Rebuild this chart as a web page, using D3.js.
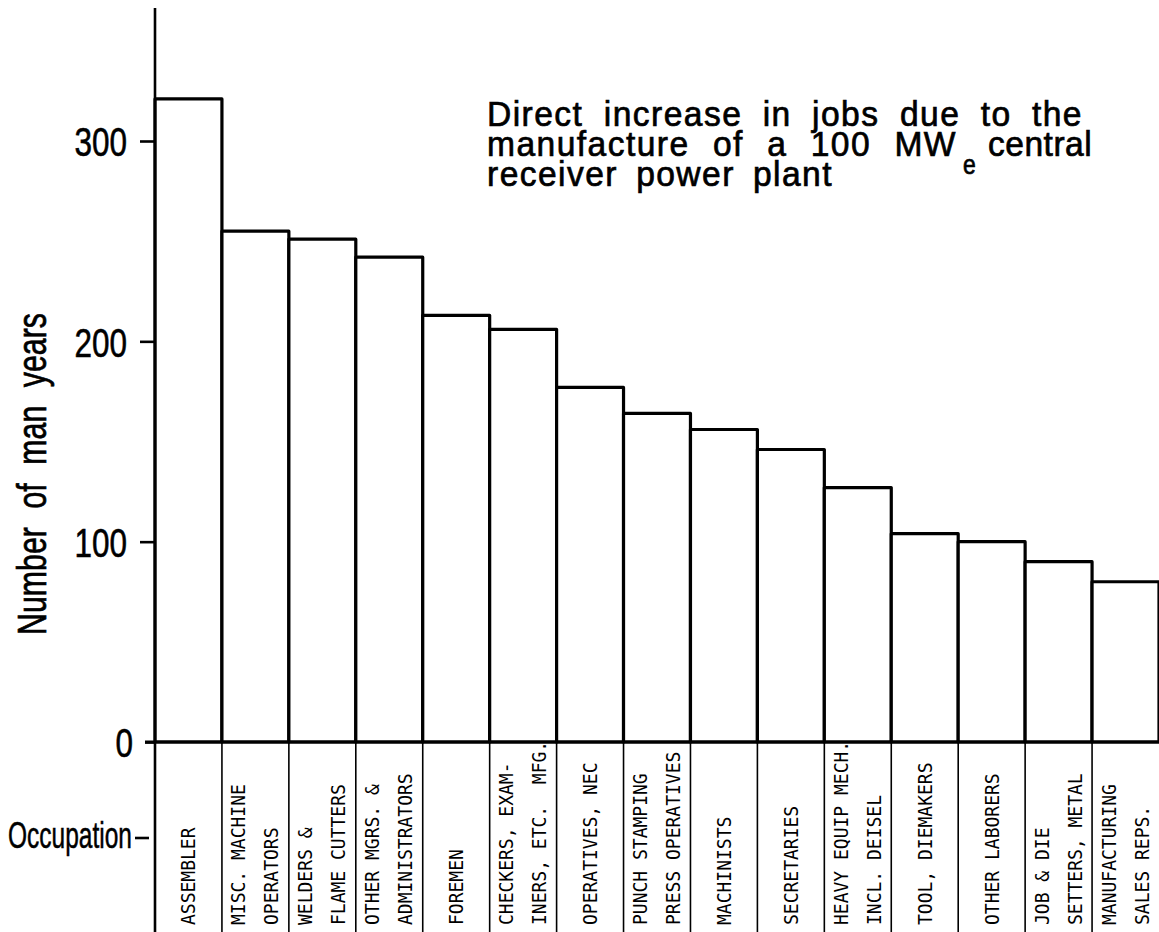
<!DOCTYPE html>
<html>
<head>
<meta charset="utf-8">
<script src="https://cdn.jsdelivr.net/npm/d3@7/dist/d3.min.js"></script>
<style>
  html, body { margin: 0; padding: 0; background: #fff; }
  svg { display: block; }
</style>
</head>
<body>
<svg id="chart" width="1159" height="932"></svg>
<script>
// ---- data ----
const categories = [
  ["ASSEMBLER"],
  ["MISC. MACHINE", "OPERATORS"],
  ["WELDERS &", "FLAME CUTTERS"],
  ["OTHER MGRS. &", "ADMINISTRATORS"],
  ["FOREMEN"],
  ["CHECKERS, EXAM-", "INERS, ETC.  MFG."],
  ["OPERATIVES, NEC"],
  ["PUNCH STAMPING", "PRESS OPERATIVES"],
  ["MACHINISTS"],
  ["SECRETARIES"],
  ["HEAVY EQUIP MECH.", "INCL. DEISEL"],
  ["TOOL, DIEMAKERS"],
  ["OTHER LABORERS"],
  ["JOB & DIE", "SETTERS, METAL"],
  ["MANUFACTURING", "SALES REPS."]
];
const values = [321, 255, 251, 242, 213, 206, 177, 164, 156, 146, 127, 104, 100, 90, 80];
const yTicks = [0, 100, 200, 300];
const titleLines = ["Direct increase in jobs due to the", "manufacture of a 100 MW", "central", "receiver power plant"];
const yLabel = "Number of man years";
const xLabel = "Occupation";

// ---- layout ----
const svg = d3.select("#chart");
const W = 1159, H = 932;
const keys = categories.map(c => c.join(" "));
const x = d3.scaleBand().domain(keys).range([155, 1159]).padding(0);
const y = d3.scaleLinear().domain([0, 300]).range([742, 141]);
const bigFont = "'Liberation Sans', Arial, sans-serif";
const monoFont = "'DejaVu Sans Mono', 'Liberation Mono', monospace";

// helper: scaled glyphs, word gaps adjusted so the line reaches a target width
function narrowText(parent, tx, ty, str, size, width, sx, rot, ls) {
  const g = parent.append("g")
    .attr("transform", "translate(" + tx + "," + ty + ")" + (rot ? " rotate(" + rot + ")" : "") + " scale(" + sx + ",1)");
  const t = g.append("text")
    .attr("x", 0).attr("y", 0)
    .style("font-family", bigFont)
    .style("font-size", size + "px")
    .style("letter-spacing", (ls || 0) + "px")
    .attr("fill", "#000")
    .attr("stroke", "#000")
    .attr("stroke-width", 0.7)
    .text(str);
  const nSp = (str.match(/ /g) || []).length;
  if (width && nSp > 0) {
    const nat = t.node().getComputedTextLength();
    const extra = width / sx - nat;
    t.style("word-spacing", (extra / nSp) + "px");
  }
  return t;
}

// bars
svg.append("g").selectAll("rect")
  .data(values)
  .join("rect")
  .attr("x", (d, i) => x(keys[i]))
  .attr("width", x.bandwidth())
  .attr("y", d => y(d))
  .attr("height", d => y(0) - y(d))
  .attr("fill", "#fff")
  .attr("stroke", "#000")
  .attr("stroke-width", 3.2)
  .attr("stroke-linejoin", "round");

// separators below the baseline
svg.append("g").selectAll("line")
  .data(keys.slice(1))
  .join("line")
  .attr("x1", d => x(d)).attr("x2", d => x(d))
  .attr("y1", y(0)).attr("y2", H)
  .attr("stroke", "#000").attr("stroke-width", 1.6);

// baseline
svg.append("line")
  .attr("x1", 145).attr("x2", W)
  .attr("y1", y(0)).attr("y2", y(0))
  .attr("stroke", "#000").attr("stroke-width", 3);

// vertical axis line
svg.append("line")
  .attr("x1", 155).attr("x2", 155)
  .attr("y1", 8).attr("y2", H)
  .attr("stroke", "#000").attr("stroke-width", 2.6);

// y axis ticks
const yAxis = d3.axisLeft(y).tickValues(yTicks).tickSize(15).tickPadding(13).tickFormat(d3.format("d"));
const ga = svg.append("g").attr("transform", "translate(155,0)").call(yAxis);
ga.select(".domain").remove();
ga.selectAll(".tick line").attr("stroke", "#000").attr("stroke-width", 2.6)
  .attr("x2", d => d === 0 ? -10 : -15);
ga.selectAll(".tick text")
  .attr("fill", "#000")
  .attr("stroke", "#000").attr("stroke-width", 0.6)
  .attr("x", d => d === 0 ? -22 : -28)
  .style("font-family", bigFont)
  .style("font-size", "41px")
  .attr("dy", "0.36em")
  .attr("textLength", d => String(d).length * 17.5)
  .attr("lengthAdjust", "spacingAndGlyphs");

// y label
narrowText(svg, 46, 635, yLabel, 41, 322, 0.74, -90, 0);

// Occupation label
svg.append("text")
  .attr("x", 8).attr("y", 848)
  .style("font-family", bigFont)
  .style("font-size", "36px")
  .attr("stroke", "#000").attr("stroke-width", 0.5)
  .attr("textLength", 124)
  .attr("lengthAdjust", "spacingAndGlyphs")
  .text(xLabel);
svg.append("line")
  .attr("x1", 135).attr("x2", 149).attr("y1", 838).attr("y2", 838)
  .attr("stroke", "#000").attr("stroke-width", 2.6);

// category labels (rotated, reading upwards)
const lab = svg.append("g").selectAll("g")
  .data(categories)
  .join("g");
lab.each(function (lines, i) {
  const cx = x(keys[i]) + x.bandwidth() / 2;
  const offsets = lines.length === 1 ? [0] : [-17, 16];
  lines.forEach((t, j) => {
    d3.select(this).append("text")
      .attr("transform", "translate(" + (cx + offsets[j] + 7) + ",925) rotate(-90) scale(0.9,1)")
      .style("font-family", monoFont)
      .style("font-size", "20px")
      .attr("fill", "#000")
      .style("white-space", "pre")
      .text(t);
  });
});

// title
narrowText(svg, 487, 126, titleLines[0], 35, 596, 0.96, 0, 1.5);
narrowText(svg, 487, 156, titleLines[1], 35, 470, 0.96, 0, 1.5);
narrowText(svg, 963, 174, "e", 27, null, 0.85, 0, 0);
narrowText(svg, 988, 156, titleLines[2], 35, 110, 0.96, 0, 0.5);
narrowText(svg, 487, 186, titleLines[3], 35, 346, 0.96, 0, 1.5);
</script>
</body>
</html>
